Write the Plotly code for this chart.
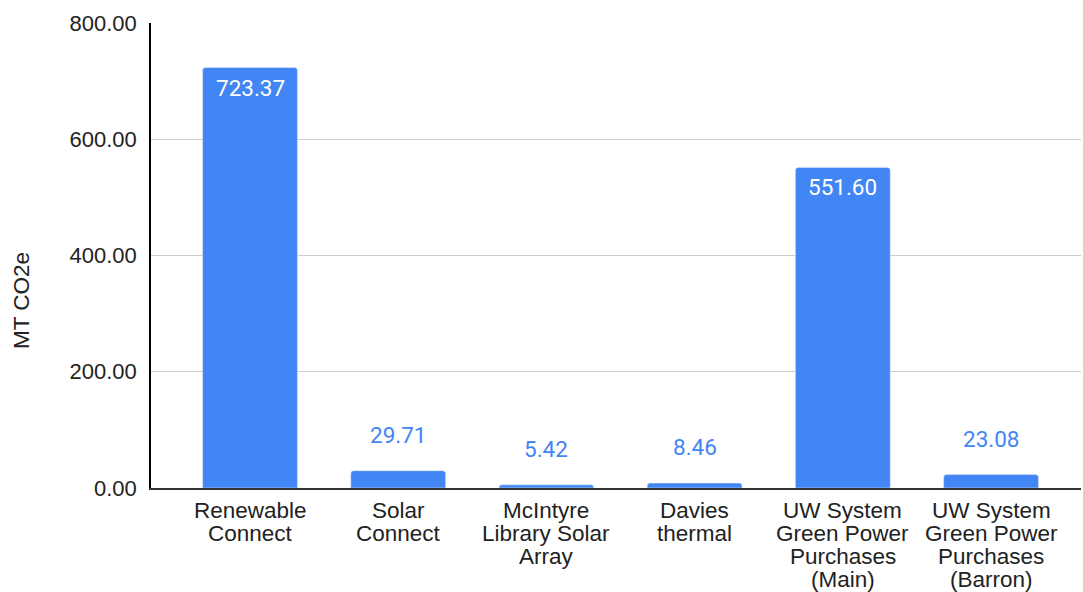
import plotly.graph_objects as go

categories = [
    "Renewable<br>Connect",
    "Solar<br>Connect",
    "McIntyre<br>Library Solar<br>Array",
    "Davies<br>thermal",
    "UW System<br>Green Power<br>Purchases<br>(Main)",
    "UW System<br>Green Power<br>Purchases<br>(Barron)",
]
values = [723.37, 29.71, 5.42, 8.46, 551.60, 23.08]
y_ticks = [0, 200, 400, 600, 800]
y_tick_labels = ["0.00", "200.00", "400.00", "600.00", "800.00"]
y_title = "MT CO2e"

BLUE = "#4285F4"
TEXT = "#222222"
x_idx = list(range(len(categories)))

fig = go.Figure()
fig.add_trace(go.Bar(
    x=x_idx, y=values, marker_color=BLUE, width=0.64,
    hoverinfo="skip",
))

annotations = []
for i, v in zip(x_idx, values):
    inside = v > 100
    annotations.append(dict(
        x=i, y=v, xref="x", yref="y",
        text=f"{v:.2f}",
        showarrow=False,
        yanchor="middle",
        yshift=-20 if inside else 36,
        font=dict(family="Roboto, Arial, sans-serif", size=22.5,
                  color="white" if inside else BLUE),
    ))

# category labels, one annotation per line for tight line spacing
for i, lab in zip(x_idx, categories):
    for k, line in enumerate(lab.split("<br>")):
        annotations.append(dict(
            x=i, y=0, xref="x", yref="paper",
            text=line, showarrow=False,
            yanchor="middle", xanchor="center",
            yshift=-(22 + 23 * k),
            font=dict(family="Arial, Liberation Sans, sans-serif", size=22.5, color=TEXT),
        ))

# y axis title
annotations.append(dict(
    x=0, y=0.402, xref="paper", yref="paper",
    xshift=-130, text=y_title, textangle=-90, showarrow=False,
    xanchor="center", yanchor="middle",
    font=dict(family="Arial, Liberation Sans, sans-serif", size=22.5, color=TEXT),
))

fig.update_layout(
    width=1083, height=592,
    margin=dict(l=151, r=2, t=23, b=104),
    paper_bgcolor="white", plot_bgcolor="white",
    showlegend=False,
    barcornerradius=3,
    annotations=annotations,
    font=dict(family="Arial, Liberation Sans, sans-serif", size=22, color=TEXT),
)
fig.update_xaxes(
    range=[-0.668, 5.607],
    tickmode="array", tickvals=x_idx, ticktext=[""] * len(x_idx),
    showgrid=False, showline=True, linecolor="#333333", linewidth=1.5,
    ticks="", fixedrange=True,
)
fig.update_yaxes(
    range=[0, 800],
    tickmode="array", tickvals=y_ticks, ticktext=y_tick_labels,
    showgrid=True, gridcolor="#cccccc", gridwidth=1,
    zeroline=False,
    showline=True, linecolor="#000000", linewidth=1.5,
    ticks="", ticklabelstandoff=8,
    tickfont=dict(size=22, color=TEXT),
    fixedrange=True,
)

fig.write_html("out.html")
